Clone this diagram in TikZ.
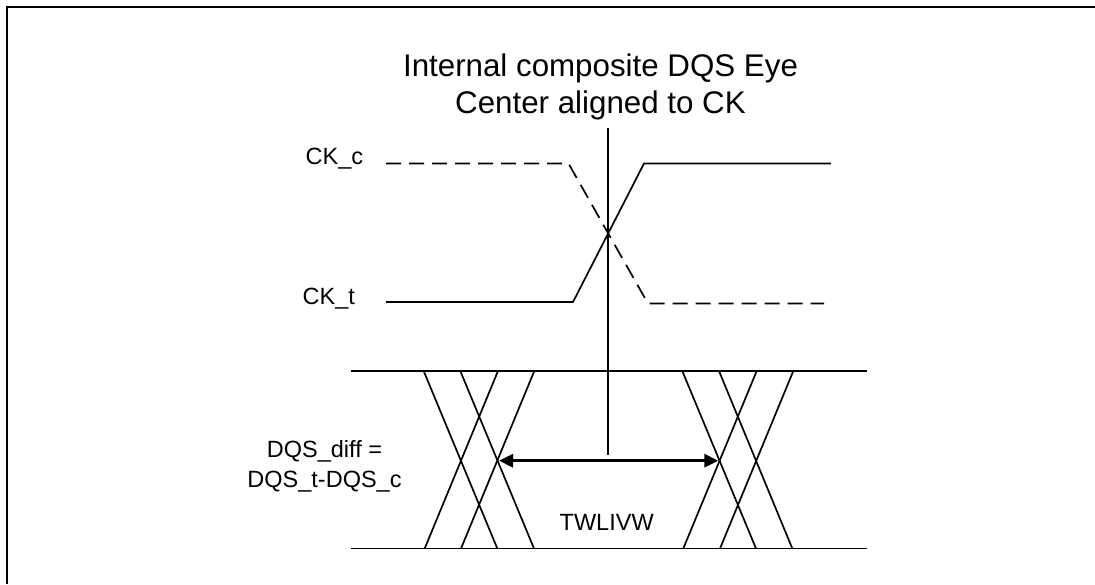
\documentclass[tikz,border=0pt]{standalone}
\usepackage{fontspec}
\setmainfont{Liberation Sans}
\usetikzlibrary{arrows.meta}
\tikzset{
  wave/.style={line width=1.7pt,line join=miter},
  clockdash/.style={wave,dash pattern=on 15pt off 8pt},
  bigtext/.style={inner sep=0pt,align=center,font=\fontsize{31.3}{37.6}\selectfont},
  smalltext/.style={inner sep=0pt,align=center,font=\fontsize{23.5}{30}\selectfont},
  span/.style={line width=3pt,{Triangle[length=14pt,width=13pt]}-{Triangle[length=14pt,width=13pt]},shorten <=0pt,shorten >=0pt},
  frame/.style={line width=2.2pt,line cap=butt}
}
\begin{document}
\begin{tikzpicture}[x=1pt,y=-1pt]
\useasboundingbox (0,0) rectangle (1095,584);
% frame
\coordinate (fa) at (7,584); \coordinate (fb) at (7,7); \coordinate (fc) at (1095,7);
\draw[frame] (fa) -- (fb) -- (fc);
% labels
\node[bigtext] (title) at (600.5,87) {Internal composite DQS Eye\\Center aligned to CK};
\node[smalltext,anchor=base west] (ckc) at (305.5,164) {CK\_c};
\node[smalltext,anchor=base west] (ckt) at (302.5,304) {CK\_t};
\node[smalltext] (dqs) at (324.5,466) {DQS\_diff =\\DQS\_t-DQS\_c};
\node[smalltext,anchor=base west] (twl) at (559.5,530.7) {TWLIVW};
% clock
\coordinate (c1) at (386,163.5); \coordinate (c2) at (568.5,163.5); \coordinate (c3) at (648,303.5); \coordinate (c4) at (824,303.5);
\draw[clockdash] (c1) -- (c2) -- (c3) -- (c4);
\coordinate (t1) at (386,302); \coordinate (t2) at (573,302); \coordinate (t3) at (644,163.5); \coordinate (t4) at (831,163.5);
\draw[wave] (t1) -- (t2) -- (t3) -- (t4);
% centre line
\coordinate (v1) at (607.7,128); \coordinate (v2) at (607.7,455);
\draw[wave] (v1) -- (v2);
% data rails
\coordinate (r1) at (351,371); \coordinate (r2) at (867,371);
\coordinate (r3) at (351,548.5); \coordinate (r4) at (867,548.5);
\draw[wave] (r1) -- (r2);
\draw[wave] (r3) -- (r4);
% left crossings
\coordinate (la) at (423.7,371); \coordinate (lb) at (497.3,548.5);
\coordinate (lc) at (460.3,371); \coordinate (ld) at (534,548.5);
\coordinate (le) at (498,371); \coordinate (lf) at (424.7,548.5);
\coordinate (lg) at (534.3,371); \coordinate (lh) at (461,548.5);
\draw[wave] (la) -- (lb);
\draw[wave] (lc) -- (ld);
\draw[wave] (le) -- (lf);
\draw[wave] (lg) -- (lh);
% right crossings
\coordinate (ra) at (682.3,371); \coordinate (rb) at (756,548.5);
\coordinate (rc) at (719,371); \coordinate (rd) at (792.3,548.5);
\coordinate (re) at (756.7,371); \coordinate (rf) at (683.3,548.5);
\coordinate (rg) at (793.3,371); \coordinate (rh) at (720,548.5);
\draw[wave] (ra) -- (rb);
\draw[wave] (rc) -- (rd);
\draw[wave] (re) -- (rf);
\draw[wave] (rg) -- (rh);
% eye width
\coordinate (s1) at (499,460.7); \coordinate (s2) at (718.3,460.7);
\draw[span] (s1) -- (s2);
\end{tikzpicture}
\end{document}
